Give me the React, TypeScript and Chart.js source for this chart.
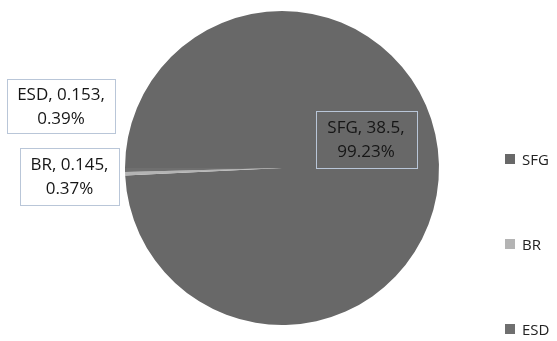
import React, { useEffect, useRef } from "react";
import { Chart, registerables } from "chart.js";

Chart.register(...registerables);

// Pie data
const categories = ["SFG", "BR", "ESD"];
const values = [38.5, 0.145, 0.153];
const percentLabels = ["99.23%", "0.37%", "0.39%"];
const sliceColors = ["#686868", "#b4b4b4", "#6f6f6f"];

const FONT = "'Open Sans', Lato, 'DejaVu Sans', sans-serif";

// Data-label boxes, one per slice: centre of the box and its size
const labelBoxes: Record<string, { cx: number; cy: number; w: number; h: number }> = {
  SFG: { cx: 366, cy: 139.5, w: 101, h: 57 },
  BR: { cx: 69.5, cy: 176.5, w: 99, h: 57 },
  ESD: { cx: 61, cy: 106, w: 108, h: 54 },
};

const dataLabelPlugin = {
  id: "boxedLabels",
  afterDatasetsDraw(chart: any) {
    const ctx = chart.ctx as CanvasRenderingContext2D;
    const ds = chart.data.datasets[0];
    ctx.save();
    chart.data.labels.forEach((lab: string, i: number) => {
      const b = labelBoxes[lab];
      const lines = [`${lab}, ${ds.data[i]},`, percentLabels[i]];
      const x = Math.round(b.cx - b.w / 2) + 0.5;
      const y = Math.round(b.cy - b.h / 2) + 0.5;
      if (lab !== "SFG") {
        ctx.fillStyle = "#ffffff";
        ctx.fillRect(x, y, b.w, b.h);
      }
      ctx.strokeStyle = "#b9c6d8";
      ctx.lineWidth = 1;
      ctx.strokeRect(x, y, b.w, b.h);
      ctx.font = `17px ${FONT}`;
      ctx.fillStyle = "#161616";
      ctx.textAlign = "center";
      ctx.textBaseline = "middle";
      ctx.fillText(lines[0], b.cx, b.cy - 11);
      ctx.fillText(lines[1], b.cx, b.cy + 13);
    });
    ctx.restore();
  },
};

// Vertical legend on the right side
const legendPlugin = {
  id: "sideLegend",
  afterDraw(chart: any) {
    const ctx = chart.ctx as CanvasRenderingContext2D;
    const ds = chart.data.datasets[0];
    ctx.save();
    ctx.font = `15px ${FONT}`;
    ctx.textBaseline = "middle";
    ctx.textAlign = "left";
    chart.data.labels.forEach((lab: string, i: number) => {
      const cy = 159 + i * 85;
      ctx.fillStyle = ds.backgroundColor[i];
      ctx.fillRect(505, cy - 5, 10, 10);
      ctx.fillStyle = "#222222";
      ctx.fillText(lab, 522, cy + 2);
    });
    ctx.restore();
  },
};

export default function App() {
  const canvasRef = useRef<HTMLCanvasElement>(null);

  useEffect(() => {
    document.body.style.margin = "0";
    const chart = new Chart(canvasRef.current!, {
      type: "pie",
      data: {
        labels: categories,
        datasets: [
          {
            data: values,
            backgroundColor: sliceColors,
            borderWidth: 0,
          },
        ],
      },
      options: {
        responsive: false,
        animation: false,
        rotation: -90,
        layout: { padding: { left: 125, right: 118, top: 10, bottom: 15 } },
        plugins: {
          legend: { display: false },
          tooltip: { enabled: false },
        },
      },
      plugins: [dataLabelPlugin, legendPlugin],
    });
    return () => chart.destroy();
  }, []);

  return (
    <div style={{ width: 557, height: 341, background: "#fff" }}>
      <canvas ref={canvasRef} width={557} height={341} />
    </div>
  );
}
